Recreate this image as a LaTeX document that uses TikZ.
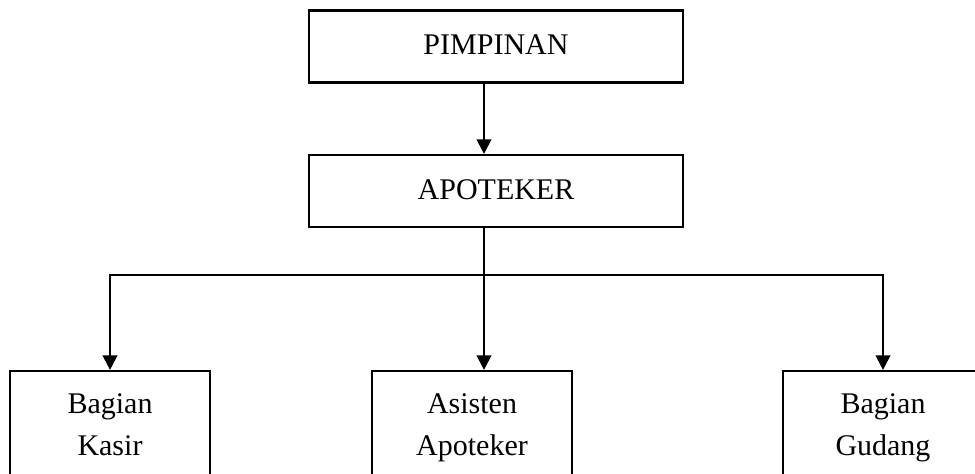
\documentclass[tikz,border=0pt]{standalone}
\usepackage{fontspec}
\setmainfont{Liberation Serif}
\usetikzlibrary{arrows.meta}
\tikzset{
  box/.style={draw, line width=1.6pt, align=center, inner sep=0pt,
    font=\fontsize{22.5pt}{31pt}\selectfont},
  topbox/.style={box, minimum width=280.5pt, minimum height=54pt, text depth=0.25em},
  subbox/.style={box, minimum width=150pt, minimum height=82.5pt, text depth=0.22em},
  link/.style={line width=1.6pt},
  arrow/.style={link, -{Triangle[length=11pt,width=11pt]}}
}
\begin{document}
\begin{tikzpicture}[x=0.75pt,y=-0.75pt]
        % Frame
        \useasboundingbox (0,0) rectangle (975,474);
        \clip (0,0) rectangle (975,474);

        % Boxes
        \node[topbox] (pimpinan) at (496,46.5) {PIMPINAN};
        \node[topbox] (apoteker) at (496,191) {APOTEKER};
        \node[subbox] (kasir) at (110,426) {Bagian\\Kasir};
        \node[subbox] (asisten) at (472,426) {Asisten\\Apoteker};
        \node[subbox] (gudang) at (883,426) {Bagian\\Gudang};

        % Draw links
        \coordinate (bus) at (484,275);
        \draw[arrow] (pimpinan.south -| bus) -- (apoteker.north -| bus);
        \draw[link] (apoteker.south -| bus) -- (bus);
        \draw[arrow] (bus) -| (kasir.north);
        \draw[arrow] (bus) -| (gudang.north);
        \draw[arrow] (bus) -- (asisten.north -| bus);
\end{tikzpicture}
\end{document}
